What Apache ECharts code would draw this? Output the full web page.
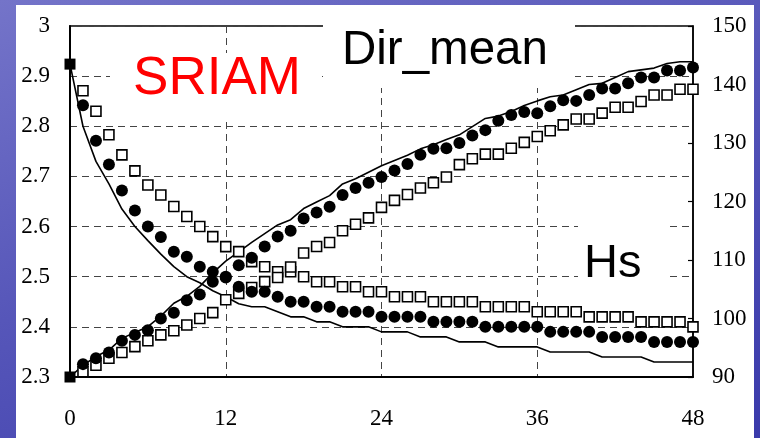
<!DOCTYPE html>
<html>
<head>
<meta charset="utf-8">
<title>SRIAM Hs / Dir_mean</title>
<script src="https://cdn.jsdelivr.net/npm/echarts@6/dist/echarts.min.js"></script>
<style>
html, body { margin: 0; padding: 0; width: 760px; height: 438px; overflow: hidden; }
body { position: relative; background: linear-gradient(160deg, #7474c9 0%, #5656b9 45%, #3a3aab 100%); }
#panel { position: absolute; left: 16px; top: 5px; width: 738px; height: 433px; background: #fff; }
#chart { position: absolute; left: 0; top: 0; width: 760px; height: 438px; }
</style>
</head>
<body>
<div id="panel"></div>
<div id="chart"></div>
<script>
// hours after start
var hours = [0, 1, 2, 3, 4, 5, 6, 7, 8, 9, 10, 11, 12, 13, 14, 15, 16, 17, 18, 19, 20, 21, 22, 23, 24,
  25, 26, 27, 28, 29, 30, 31, 32, 33, 34, 35, 36, 37, 38, 39, 40, 41, 42, 43, 44, 45, 46, 47, 48]

// Hs (left axis)
var hsLine = [2.924, 2.80, 2.73, 2.685, 2.635, 2.60, 2.572, 2.545, 2.52, 2.50, 2.488, 2.472, 2.46,
  2.446, 2.44, 2.44, 2.43, 2.42, 2.42, 2.41, 2.41, 2.40, 2.40, 2.40, 2.39, 2.39, 2.39, 2.38, 2.38,
  2.38, 2.37, 2.37, 2.37, 2.36, 2.36, 2.36, 2.36, 2.35, 2.35, 2.35, 2.35, 2.34, 2.34, 2.34, 2.34,
  2.33, 2.33, 2.33, 2.33]
var hsDots = [null, 2.842, 2.771, 2.724, 2.672, 2.632, 2.60, 2.579, 2.55, 2.54, 2.52, 2.51, 2.50,
  2.48, 2.47, 2.47, 2.46, 2.45, 2.45, 2.44, 2.44, 2.43, 2.43, 2.43, 2.42, 2.42, 2.42, 2.42, 2.41,
  2.41, 2.41, 2.41, 2.40, 2.40, 2.40, 2.40, 2.40, 2.39, 2.39, 2.39, 2.39, 2.38, 2.38, 2.38, 2.38,
  2.37, 2.37, 2.37, 2.37]
var hsBoxes = [null, 2.871, 2.83, 2.783, 2.743, 2.711, 2.683, 2.663, 2.64, 2.62, 2.60, 2.58, 2.56,
  2.55, 2.53, 2.52, 2.51, 2.51, 2.50, 2.49, 2.49, 2.48, 2.48, 2.47, 2.47, 2.46, 2.46, 2.46, 2.45,
  2.45, 2.45, 2.45, 2.44, 2.44, 2.44, 2.44, 2.43, 2.43, 2.43, 2.43, 2.42, 2.42, 2.42, 2.42, 2.41,
  2.41, 2.41, 2.41, 2.40]

// Dir_mean (right axis)
var dirLine = [90, 92.0, 93.5, 94.6, 96.6, 97.6, 98.6, 100.4, 102.6, 103.8, 105.5, 107.8, 109.8,
  111.4, 113.0, 114.5, 116.0, 116.9, 118.8, 119.9, 121.0, 123.0, 123.9, 125.0, 126.1, 127.0, 127.9,
  129.0, 129.7, 130.6, 131.4, 132.8, 134.2, 134.6, 135.4, 136.4, 137.2, 137.9, 138.2, 139.1, 140.0,
  140.2, 141.2, 142.2, 142.5, 142.8, 143.6, 143.9, 143.9]
var dirDots = [null, 92.2, 93.2, 94.2, 96.2, 97.2, 98.0, 100.0, 101.0, 103.1, 104.1, 106.3, 107.0,
  109.1, 110.4, 112.3, 114.0, 115.0, 117.1, 118.1, 119.1, 121.1, 122.3, 123.2, 124.2, 125.3, 126.4,
  128.0, 129.0, 129.1, 130.0, 131.3, 132.2, 133.8, 134.8, 135.3, 135.1, 136.3, 137.3, 137.2, 138.2,
  139.3, 139.3, 140.2, 141.2, 141.2, 142.4, 142.4, 142.9]
var dirBoxes = [null, 90.9, 92.0, 93.2, 94.2, 95.2, 96.2, 97.2, 97.9, 98.9, 100.0, 101.0, 103.2,
  104.3, 105.3, 106.3, 107.0, 108.8, 111.2, 112.3, 113.0, 115.0, 116.1, 117.2, 119.0, 120.2, 121.2,
  122.3, 123.2, 124.2, 126.3, 127.3, 128.1, 128.1, 129.1, 130.1, 131.1, 132.1, 133.1, 134.1, 134.1,
  135.1, 136.1, 136.1, 137.1, 138.2, 138.2, 139.2, 139.2]

function pairs(vals) {
  var out = []
  for (var i = 0; i < hours.length; i++) {
    if (vals[i] !== null) out.push([hours[i], vals[i]])
  }
  return out
}

var chart = echarts.init(document.getElementById('chart'))

var serif = '"Liberation Serif", "Times New Roman", serif'
var sans = '"Liberation Sans", Arial, sans-serif'
var dash = { color: '#444', width: 1, type: [7, 5] }

function lineSeries(vals, axis) {
  return {
    type: 'line', yAxisIndex: axis, data: pairs(vals), symbol: 'none',
    lineStyle: { color: '#000', width: 1.6 }, z: 3, clip: false
  }
}
function dotSeries(vals, axis) {
  return {
    type: 'scatter', yAxisIndex: axis, data: pairs(vals), symbol: 'circle', symbolSize: 12,
    itemStyle: { color: '#000', opacity: 1 }, z: 5, clip: false
  }
}
function boxSeries(vals, axis) {
  return {
    type: 'scatter', yAxisIndex: axis, data: pairs(vals), symbol: 'rect', symbolSize: 10,
    itemStyle: { color: '#fff', borderColor: '#000', borderWidth: 1.6, opacity: 1 }, z: 4, clip: false
  }
}
// filled square where model and data share the start value
function startSeries(vals, axis) {
  return {
    type: 'scatter', yAxisIndex: axis, data: [[hours[0], vals[0]]], symbol: 'rect', symbolSize: 11,
    itemStyle: { color: '#000', opacity: 1 }, z: 6, clip: false
  }
}

chart.setOption({
  animation: false,
  grid: { left: 70, right: 67, top: 26, bottom: 61, show: true, borderColor: '#000', borderWidth: 1.5 },
  xAxis: {
    type: 'value', min: 0, max: 48, interval: 12,
    axisLine: { lineStyle: { color: '#000', width: 2 } },
    axisTick: { show: false },
    axisLabel: { color: '#000', fontFamily: serif, fontSize: 23, margin: 30 },
    splitLine: { show: true, lineStyle: dash }
  },
  yAxis: [{
    type: 'value', min: 2.3, max: 3, interval: 0.1,
    axisLine: { show: true, lineStyle: { color: '#000', width: 2 } },
    axisTick: { show: false },
    axisLabel: {
      color: '#000', fontFamily: serif, fontSize: 23, margin: 20,
      formatter: function(v) { return Math.abs(v - 3) < 1e-6 ? '3' : v.toFixed(1) }
    },
    splitLine: { show: true, lineStyle: dash }
  }, {
    type: 'value', min: 90, max: 150, interval: 10, position: 'right',
    axisLine: { show: true, lineStyle: { color: '#000', width: 1.5 } },
    axisTick: { show: true, inside: true, length: 5, lineStyle: { color: '#000', width: 1.2 } },
    axisLabel: { color: '#000', fontFamily: serif, fontSize: 23, margin: 19 },
    splitLine: { show: false }
  }],
  graphic: [
    { type: 'rect', shape: { x: 110, y: 53, width: 211, height: 66 }, style: { fill: '#fff' }, z: 10 },
    { type: 'rect', shape: { x: 323, y: 10, width: 252, height: 78 }, style: { fill: '#fff' }, z: 10 },
    { type: 'rect', shape: { x: 578, y: 220, width: 89, height: 72 }, style: { fill: '#fff' }, z: 10 },
    { type: 'text', x: 217, y: 79, z: 11,
      style: { text: 'SRIAM', fill: '#ff0000', font: '53px ' + sans, textAlign: 'center', textVerticalAlign: 'middle' } },
    { type: 'text', x: 342, y: 51, z: 11,
      style: { text: 'Dir_mean', fill: '#000', font: '47.5px ' + sans, textAlign: 'left', textVerticalAlign: 'middle' } },
    { type: 'text', x: 584, y: 264, z: 11,
      style: { text: 'Hs', fill: '#000', font: '47px ' + sans, textAlign: 'left', textVerticalAlign: 'middle' } }
  ],
  series: [
    lineSeries(hsLine, 0),
    boxSeries(hsBoxes, 0),
    dotSeries(hsDots, 0),
    lineSeries(dirLine, 1),
    boxSeries(dirBoxes, 1),
    dotSeries(dirDots, 1),
    startSeries(hsLine, 0),
    startSeries(dirLine, 1)
  ]
})
</script>
</body>
</html>
